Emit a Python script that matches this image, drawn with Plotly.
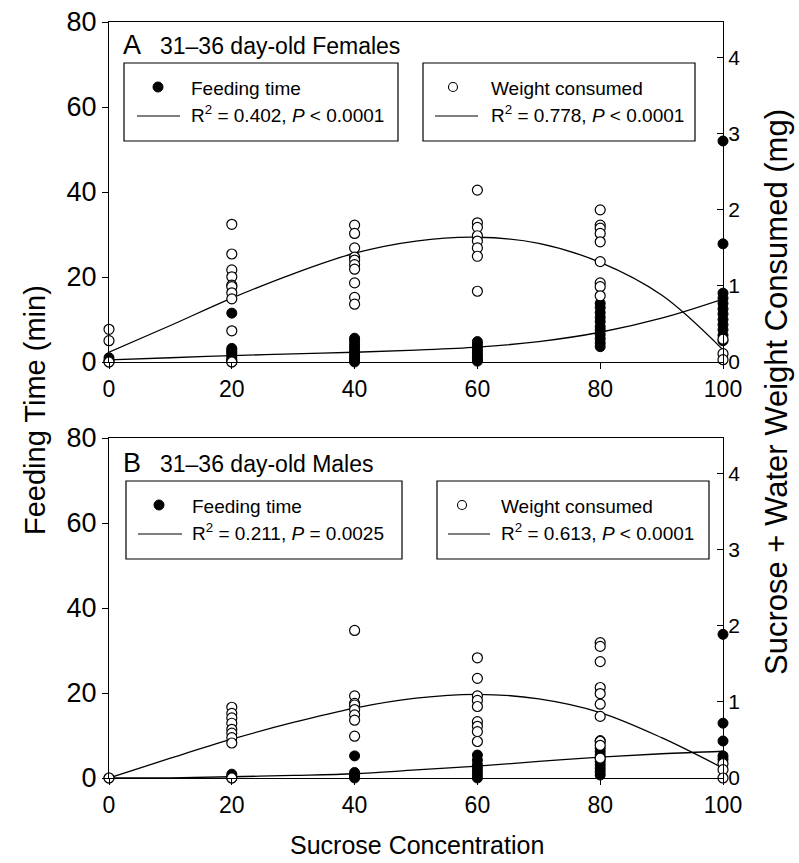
import plotly.graph_objects as go

# ---------------- data ----------------
CONC = [0, 20, 40, 60, 80, 100]

# Females (panel A)
F_FEED = [
    [1.0, 0.3, 0.0],
    [11.5, 3.2, 2.8, 2.4, 2.0, 1.5, 1.0, 0.5, 0.2, 0.0],
    [5.6, 5.0, 4.2, 3.5, 2.8, 2.2, 1.6, 1.0, 0.5, 0.0],
    [4.8, 4.2, 3.5, 2.8, 2.2, 1.6, 1.0, 0.5, 0.2],
    [13.8, 12.8, 11.6, 10.5, 9.5, 8.3, 7.5, 6.5, 5.5, 4.5, 3.6],
    [52.0, 27.8, 16.2, 15.0, 13.8, 12.5, 11.3, 10.0, 8.8, 7.6, 6.3, 5.0],
]
F_WEIGHT = [
    [0.43, 0.28, 0.0],
    [1.81, 1.42, 1.21, 1.12, 1.01, 0.99, 0.91, 0.83, 0.41, 0.0],
    [1.80, 1.69, 1.50, 1.38, 1.34, 1.28, 1.22, 1.04, 0.85, 0.76],
    [2.26, 1.83, 1.77, 1.66, 1.59, 1.50, 1.39, 0.93],
    [2.00, 1.80, 1.76, 1.69, 1.58, 1.32, 1.04, 0.99, 0.87],
    [0.30, 0.11, 0.03],
]

# Males (panel B)
M_FEED = [
    [0.0],
    [0.9, 0.4, 0.0],
    [5.2, 1.3, 0.8, 0.4, 0.0],
    [5.4, 4.2, 3.1, 2.4, 1.6, 0.8, 0.0],
    [8.8, 7.0, 6.2, 5.4, 4.6, 3.9, 3.1, 2.3, 1.5, 0.7],
    [33.8, 12.9, 8.7, 5.2, 4.4],
]
M_WEIGHT = [
    [0.0],
    [0.93, 0.85, 0.79, 0.72, 0.64, 0.59, 0.53, 0.46, 0.0],
    [1.94, 1.08, 0.98, 0.96, 0.90, 0.83, 0.76, 0.55],
    [1.58, 1.31, 1.08, 1.02, 0.94, 0.74, 0.68, 0.61, 0.48],
    [1.78, 1.73, 1.53, 1.19, 1.11, 0.97, 0.81, 0.48, 0.43, 0.26],
    [0.19, 0.11, 0.0],
]

# fitted curves
FIT_X = [0, 10, 20, 30, 40, 50, 60, 70, 80, 90, 100]
F_FEED_FIT = [0.5, 1.0, 1.5, 1.9, 2.3, 2.8, 3.5, 4.8, 7.0, 10.3, 14.8]
F_WEIGHT_FIT = [0.13, 0.48, 0.84, 1.16, 1.43, 1.59, 1.64, 1.56, 1.31, 0.88, 0.16]
M_FEED_FIT = [0.0, 0.05, 0.3, 0.6, 1.0, 1.9, 2.8, 3.9, 4.9, 5.7, 6.3]
M_WEIGHT_FIT = [0.0, 0.26, 0.51, 0.73, 0.92, 1.05, 1.10, 1.04, 0.86, 0.53, 0.13]

X_TICKS = [0, 20, 40, 60, 80, 100]
LEFT_TICKS = [0, 20, 40, 60, 80]
RIGHT_TICKS = [0, 1, 2, 3, 4]

PANEL_LABELS = ["A", "B"]
PANEL_TITLES = ["31\u201336 day-old Females", "31\u201336 day-old Males"]
LEG_FEED = "Feeding time"
LEG_WEIGHT = "Weight consumed"
STATS = [
    ["R<sup>2</sup> = 0.402, <i>P</i> &lt; 0.0001", "R<sup>2</sup> = 0.778, <i>P</i> &lt; 0.0001"],
    ["R<sup>2</sup> = 0.211, <i>P</i> = 0.0025", "R<sup>2</sup> = 0.613, <i>P</i> &lt; 0.0001"],
]

# ---------------- layout geometry ----------------
W, H = 799, 863
ML, MR, MT, MB = 109, 76, 22, 85
PW, PH = W - ML - MR, H - MT - MB
FONT = "Liberation Sans, Arial, Helvetica, sans-serif"


def fx(px):
    return (px - ML) / PW


def fy(py):
    return (H - MB - py) / PH


def flat(groups):
    xs, ys = [], []
    for c, vals in zip(CONC, groups):
        for v in vals:
            xs.append(c)
            ys.append(v)
    return xs, ys


fig = go.Figure()

panels = [
    (F_FEED, F_WEIGHT, F_FEED_FIT, F_WEIGHT_FIT, "x", "y", "y3"),
    (M_FEED, M_WEIGHT, M_FEED_FIT, M_WEIGHT_FIT, "x2", "y2", "y4"),
]
for feed, weight, ffit, wfit, xa, ya, yr in panels:
    fig.add_trace(go.Scatter(x=FIT_X, y=wfit, mode="lines", xaxis=xa, yaxis=yr,
                             line=dict(color="black", width=1.3, shape="spline"),
                             showlegend=False, hoverinfo="skip"))
    fig.add_trace(go.Scatter(x=FIT_X, y=ffit, mode="lines", xaxis=xa, yaxis=ya,
                             line=dict(color="black", width=1.3, shape="spline"),
                             showlegend=False, hoverinfo="skip"))
    xs, ys = flat(feed)
    fig.add_trace(go.Scatter(x=xs, y=ys, mode="markers", xaxis=xa, yaxis=ya,
                             marker=dict(symbol="circle", size=10, color="black",
                                         line=dict(color="black", width=1)),
                             cliponaxis=False, showlegend=False))
    xs, ys = flat(weight)
    fig.add_trace(go.Scatter(x=xs, y=ys, mode="markers", xaxis=xa, yaxis=yr,
                             marker=dict(symbol="circle", size=10, color="white",
                                         line=dict(color="black", width=1.2)),
                             cliponaxis=False, showlegend=False))

top_dom = [fy(362), fy(22)]
bot_dom = [fy(778), fy(438)]

axis_common = dict(showgrid=False, zeroline=False, showline=True,
                   linecolor="black", linewidth=1.3, ticks="outside",
                   ticklen=6, tickwidth=1.2, tickcolor="black")

xa = dict(axis_common, range=[0, 100], tickvals=X_TICKS, mirror=True,
          tickfont=dict(family=FONT, size=23, color="black"))
fig.update_layout(
    xaxis=dict(xa, domain=[0, 1], anchor="y"),
    xaxis2=dict(xa, domain=[0, 1], anchor="y2"),
    yaxis=dict(axis_common, domain=top_dom, range=[0, 80], tickvals=LEFT_TICKS,
               anchor="x", tickfont=dict(family=FONT, size=27, color="black")),
    yaxis2=dict(axis_common, domain=bot_dom, range=[0, 80], tickvals=LEFT_TICKS,
                anchor="x2", tickfont=dict(family=FONT, size=27, color="black")),
    yaxis3=dict(axis_common, range=[0, 4.47], tickvals=RIGHT_TICKS, overlaying="y",
                side="right", anchor="x", ticks="inside",
                tickfont=dict(family=FONT, size=21, color="black")),
    yaxis4=dict(axis_common, range=[0, 4.47], tickvals=RIGHT_TICKS, overlaying="y2",
                side="right", anchor="x2", ticks="inside",
                tickfont=dict(family=FONT, size=21, color="black")),
)

annotations = []
shapes = []

# axis titles
annotations.append(dict(text="Feeding Time (min)", x=fx(35), y=fy(410), xref="paper", yref="paper",
                        textangle=-90, showarrow=False, xanchor="center", yanchor="middle",
                        font=dict(family=FONT, size=29, color="black")))
annotations.append(dict(text="Sucrose + Water Weight Consumed (mg)", x=fx(776), y=fy(392),
                        xref="paper", yref="paper", textangle=-90, showarrow=False,
                        xanchor="center", yanchor="middle",
                        font=dict(family=FONT, size=31, color="black")))
annotations.append(dict(text="Sucrose Concentration", x=fx(417), y=fy(845), xref="paper",
                        yref="paper", showarrow=False, xanchor="center", yanchor="middle",
                        font=dict(family=FONT, size=25, color="black")))

# panel headings and legend boxes
offsets = [0, 418]
box1 = [(124, 398), (126, 402)]
box2 = [(423, 695), (437, 709)]
mk1 = [158, 159]
mk2 = [453, 462]
txt1 = [189, 190]
txt2 = [489, 499]
ln1 = [(137, 180), (138, 182)]
ln2 = [(435, 478), (448, 490)]

for i in range(2):
    o = offsets[i]
    annotations.append(dict(text=PANEL_LABELS[i], x=fx(121), y=fy(45 + o), xref="paper", yref="paper",
                            showarrow=False, xanchor="left", yanchor="middle",
                            font=dict(family=FONT, size=27, color="black")))
    annotations.append(dict(text=PANEL_TITLES[i], x=fx(158), y=fy(46 + o), xref="paper", yref="paper",
                            showarrow=False, xanchor="left", yanchor="middle",
                            font=dict(family=FONT, size=23, color="black")))
    for (bx0, bx1) in (box1[i], box2[i]):
        shapes.append(dict(type="rect", xref="paper", yref="paper",
                           x0=fx(bx0), x1=fx(bx1), y0=fy(141 + o), y1=fy(63 + o),
                           line=dict(color="black", width=1.2), fillcolor="white", layer="above"))
    r = 5
    # filled marker
    shapes.append(dict(type="circle", xref="paper", yref="paper",
                       x0=fx(mk1[i] - r), x1=fx(mk1[i] + r), y0=fy(87 + o + r), y1=fy(87 + o - r),
                       line=dict(color="black", width=1), fillcolor="black", layer="above"))
    # open marker
    shapes.append(dict(type="circle", xref="paper", yref="paper",
                       x0=fx(mk2[i] - 4.5), x1=fx(mk2[i] + 4.5), y0=fy(87 + o + 4.5), y1=fy(87 + o - 4.5),
                       line=dict(color="black", width=1.1), fillcolor="white", layer="above"))
    for (lx0, lx1) in (ln1[i], ln2[i]):
        shapes.append(dict(type="line", xref="paper", yref="paper",
                           x0=fx(lx0), x1=fx(lx1), y0=fy(116 + o), y1=fy(116 + o),
                           line=dict(color="black", width=1.2), layer="above"))
    annotations.append(dict(text=LEG_FEED, x=fx(txt1[i]), y=fy(88 + o), xref="paper", yref="paper",
                            showarrow=False, xanchor="left", yanchor="middle",
                            font=dict(family=FONT, size=19, color="black")))
    annotations.append(dict(text=LEG_WEIGHT, x=fx(txt2[i]), y=fy(88 + o), xref="paper", yref="paper",
                            showarrow=False, xanchor="left", yanchor="middle",
                            font=dict(family=FONT, size=19, color="black")))
    annotations.append(dict(text=STATS[i][0], x=fx(txt1[i]), y=fy(114 + o), xref="paper", yref="paper",
                            showarrow=False, xanchor="left", yanchor="middle",
                            font=dict(family=FONT, size=19, color="black")))
    annotations.append(dict(text=STATS[i][1], x=fx(txt2[i]), y=fy(114 + o), xref="paper", yref="paper",
                            showarrow=False, xanchor="left", yanchor="middle",
                            font=dict(family=FONT, size=19, color="black")))

fig.update_layout(
    width=W, height=H,
    margin=dict(l=ML, r=MR, t=MT, b=MB, autoexpand=False),
    paper_bgcolor="white", plot_bgcolor="white",
    showlegend=False,
    annotations=annotations, shapes=shapes,
    font=dict(family=FONT, color="black"),
)

fig.write_html("out.html")
